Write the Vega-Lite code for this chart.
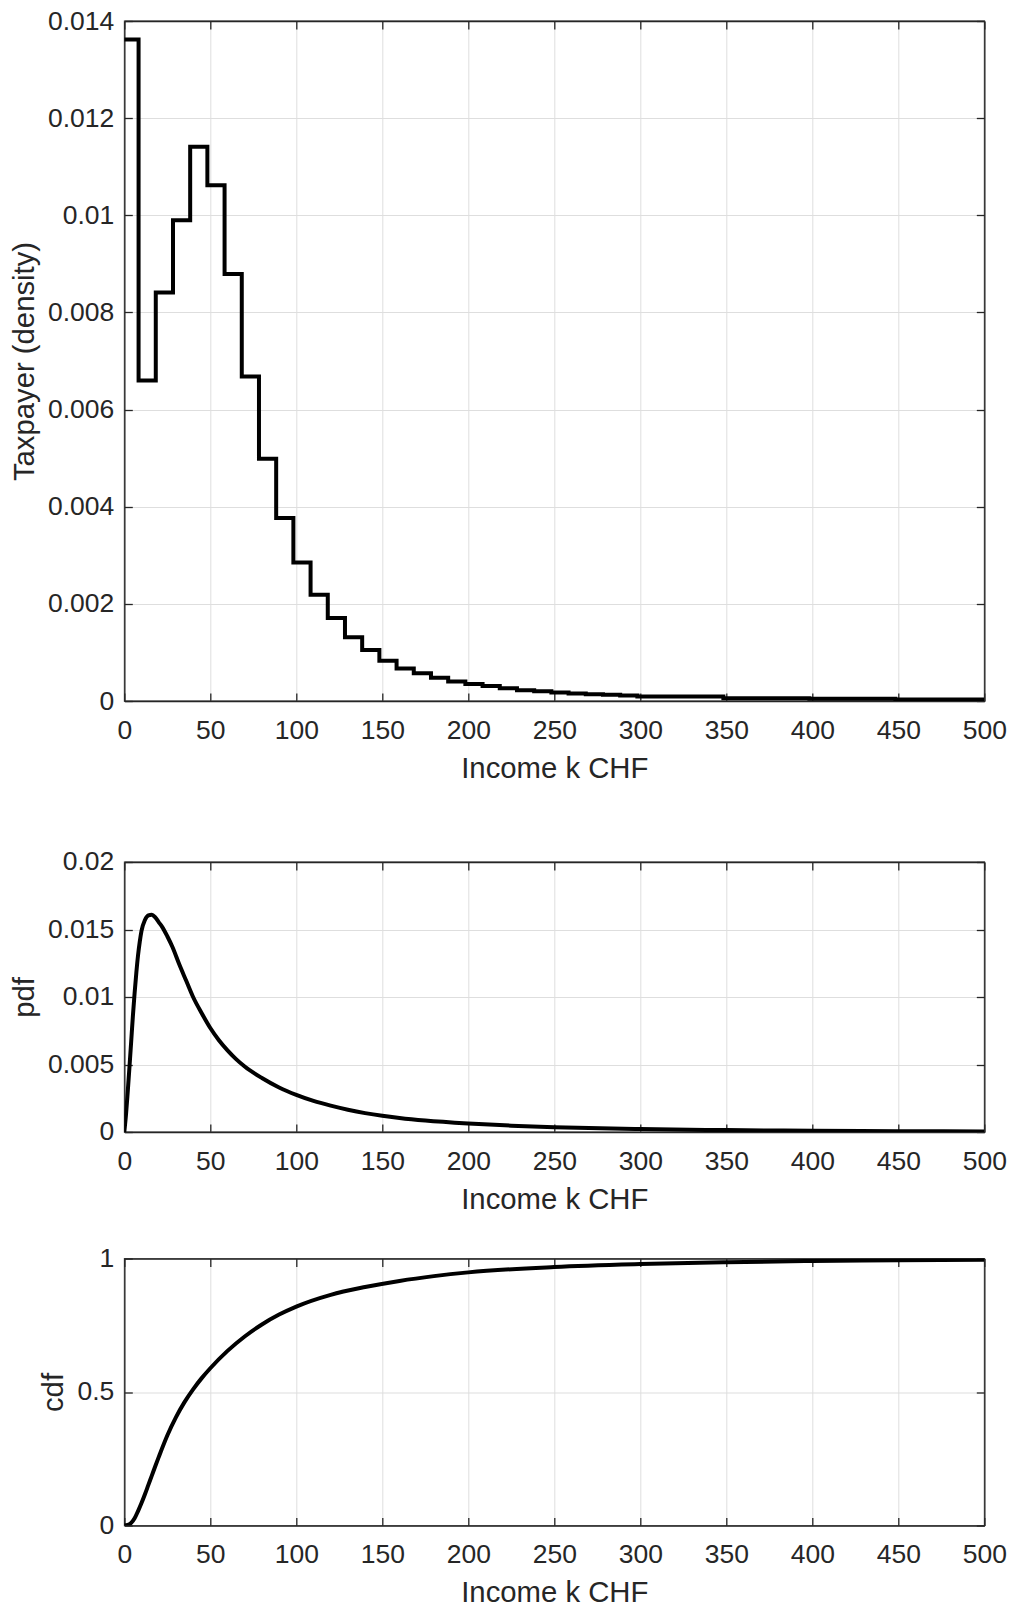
{
  "$schema": "https://vega.github.io/schema/vega-lite/v6.json",
  "padding": {"left": 9.3, "top": 7, "right": 5, "bottom": 0},
  "background": "white",
  "datasets": {
    "hist": [
      {"x": 0, "y": 0.01362}, {"x": 8.3, "y": 0.0066}, {"x": 18.3, "y": 0.00841}, {"x": 28.3, "y": 0.0099},
      {"x": 38.3, "y": 0.01141}, {"x": 48.3, "y": 0.01062}, {"x": 58.3, "y": 0.00879}, {"x": 68.3, "y": 0.00668},
      {"x": 78.3, "y": 0.00499}, {"x": 88.3, "y": 0.00377}, {"x": 98.3, "y": 0.00285}, {"x": 108.3, "y": 0.00219},
      {"x": 118.3, "y": 0.00171}, {"x": 128.3, "y": 0.00131}, {"x": 138.3, "y": 0.00105}, {"x": 148.3, "y": 0.00083},
      {"x": 158.3, "y": 0.00067}, {"x": 168.3, "y": 0.00057}, {"x": 178.3, "y": 0.00048}, {"x": 188.3, "y": 0.0004},
      {"x": 198.3, "y": 0.00035}, {"x": 208.3, "y": 0.00031}, {"x": 218.3, "y": 0.00026}, {"x": 228.3, "y": 0.00022},
      {"x": 238.3, "y": 0.0002}, {"x": 248.3, "y": 0.000175}, {"x": 258.3, "y": 0.000154}, {"x": 268.3, "y": 0.00014},
      {"x": 278.3, "y": 0.000128}, {"x": 288.3, "y": 0.000113}, {"x": 298.3, "y": 0.000093}, {"x": 348.3, "y": 0.000058},
      {"x": 398.3, "y": 0.000045}, {"x": 448.3, "y": 0.000031}, {"x": 500, "y": 0.000031}
    ],
    "pdf": [
      {"x": 0, "y": 0}, {"x": 1, "y": 0.0013}, {"x": 2, "y": 0.003}, {"x": 3, "y": 0.0048}, {"x": 4, "y": 0.0067},
      {"x": 5, "y": 0.0086}, {"x": 6, "y": 0.0103}, {"x": 7, "y": 0.0118}, {"x": 8, "y": 0.0131}, {"x": 9, "y": 0.0141},
      {"x": 10, "y": 0.0149}, {"x": 12, "y": 0.0157}, {"x": 14, "y": 0.01605}, {"x": 16, "y": 0.0161}, {"x": 18, "y": 0.0159},
      {"x": 20, "y": 0.01555}, {"x": 22, "y": 0.0152}, {"x": 25, "y": 0.0145}, {"x": 28, "y": 0.0137}, {"x": 32, "y": 0.0124},
      {"x": 36, "y": 0.0112}, {"x": 40, "y": 0.01}, {"x": 45, "y": 0.0088}, {"x": 50, "y": 0.0077}, {"x": 55, "y": 0.0068},
      {"x": 60, "y": 0.00605}, {"x": 65, "y": 0.0054}, {"x": 70, "y": 0.00485}, {"x": 80, "y": 0.004}, {"x": 90, "y": 0.0033},
      {"x": 100, "y": 0.00275}, {"x": 110, "y": 0.0023}, {"x": 120, "y": 0.00195}, {"x": 130, "y": 0.00165}, {"x": 140, "y": 0.0014},
      {"x": 150, "y": 0.0012}, {"x": 160, "y": 0.00104}, {"x": 175, "y": 0.00085}, {"x": 200, "y": 0.00063}, {"x": 225, "y": 0.00047},
      {"x": 250, "y": 0.00036}, {"x": 300, "y": 0.00022}, {"x": 350, "y": 0.00014}, {"x": 400, "y": 0.00009}, {"x": 450, "y": 0.00006},
      {"x": 500, "y": 0.00004}
    ],
    "cdf": [
      {"x": 0, "y": 0}, {"x": 2, "y": 0.002}, {"x": 4, "y": 0.01}, {"x": 6, "y": 0.027}, {"x": 8, "y": 0.054},
      {"x": 10, "y": 0.084}, {"x": 12, "y": 0.117}, {"x": 14, "y": 0.152}, {"x": 16, "y": 0.187}, {"x": 18, "y": 0.222},
      {"x": 20, "y": 0.256}, {"x": 25, "y": 0.337}, {"x": 30, "y": 0.405}, {"x": 35, "y": 0.462}, {"x": 40, "y": 0.51},
      {"x": 45, "y": 0.552}, {"x": 50, "y": 0.589}, {"x": 60, "y": 0.654}, {"x": 70, "y": 0.708}, {"x": 80, "y": 0.753},
      {"x": 90, "y": 0.79}, {"x": 100, "y": 0.82}, {"x": 120, "y": 0.864}, {"x": 140, "y": 0.893}, {"x": 160, "y": 0.916},
      {"x": 180, "y": 0.934}, {"x": 200, "y": 0.948}, {"x": 250, "y": 0.968}, {"x": 300, "y": 0.979}, {"x": 350, "y": 0.986},
      {"x": 400, "y": 0.9905}, {"x": 450, "y": 0.993}, {"x": 500, "y": 0.9955}
    ]
  },
  "spacing": 63,
  "vconcat": [
    {
      "width": 860,
      "height": 680,
      "data": {"name": "hist"},
      "resolve": {"axis": {"x": "independent", "y": "independent"}},
      "layer": [
        {
          "mark": {"type": "line", "opacity": 0},
          "encoding": {
            "x": {"field": "x", "type": "quantitative", "scale": {"domain": [0, 500], "nice": false, "zero": false},
                  "axis": {"orient": "top", "labels": false, "grid": false, "title": null, "values": [0, 50, 100, 150, 200, 250, 300, 350, 400, 450, 500]}},
            "y": {"field": "y", "type": "quantitative", "scale": {"domain": [0, 0.014], "nice": false},
                  "axis": {"orient": "right", "labels": false, "grid": false, "title": null, "values": [0, 0.002, 0.004, 0.006, 0.008, 0.01, 0.012, 0.014]}}
          }
        },
        {
          "mark": {"type": "line", "interpolate": "step-after", "color": "black", "strokeWidth": 4, "strokeJoin": "miter", "clip": true},
          "encoding": {
            "x": {"field": "x", "type": "quantitative", "scale": {"domain": [0, 500], "nice": false, "zero": false},
                  "axis": {"orient": "bottom", "grid": true, "title": "Income k CHF", "values": [0, 50, 100, 150, 200, 250, 300, 350, 400, 450, 500]}},
            "y": {"field": "y", "type": "quantitative", "scale": {"domain": [0, 0.014], "nice": false},
                  "axis": {"orient": "left", "grid": true, "title": "Taxpayer (density)", "format": "~g", "values": [0, 0.002, 0.004, 0.006, 0.008, 0.01, 0.012, 0.014]}}
          }
        }
      ]
    },
    {
      "spacing": 28.5,
      "vconcat": [
        {
          "width": 860,
          "height": 270,
          "data": {"name": "pdf"},
          "resolve": {"axis": {"x": "independent", "y": "independent"}},
          "layer": [
            {
              "mark": {"type": "line", "opacity": 0},
              "encoding": {
                "x": {"field": "x", "type": "quantitative", "scale": {"domain": [0, 500], "nice": false, "zero": false},
                      "axis": {"orient": "top", "labels": false, "grid": false, "title": null, "values": [0, 50, 100, 150, 200, 250, 300, 350, 400, 450, 500]}},
                "y": {"field": "y", "type": "quantitative", "scale": {"domain": [0, 0.02], "nice": false},
                      "axis": {"orient": "right", "labels": false, "grid": false, "title": null, "values": [0, 0.005, 0.01, 0.015, 0.02]}}
              }
            },
            {
              "mark": {"type": "line", "interpolate": "monotone", "color": "black", "strokeWidth": 4, "clip": true},
              "encoding": {
                "x": {"field": "x", "type": "quantitative", "scale": {"domain": [0, 500], "nice": false, "zero": false},
                      "axis": {"orient": "bottom", "grid": true, "title": "Income k CHF", "values": [0, 50, 100, 150, 200, 250, 300, 350, 400, 450, 500]}},
                "y": {"field": "y", "type": "quantitative", "scale": {"domain": [0, 0.02], "nice": false},
                      "axis": {"orient": "left", "grid": true, "title": "pdf", "format": "~g", "values": [0, 0.005, 0.01, 0.015, 0.02]}}
              }
            }
          ]
        },
        {
          "width": 860,
          "height": 267,
          "data": {"name": "cdf"},
          "resolve": {"axis": {"x": "independent", "y": "independent"}},
          "layer": [
            {
              "mark": {"type": "line", "opacity": 0},
              "encoding": {
                "x": {"field": "x", "type": "quantitative", "scale": {"domain": [0, 500], "nice": false, "zero": false},
                      "axis": {"orient": "top", "labels": false, "grid": false, "title": null, "values": [0, 50, 100, 150, 200, 250, 300, 350, 400, 450, 500]}},
                "y": {"field": "y", "type": "quantitative", "scale": {"domain": [0, 1], "nice": false},
                      "axis": {"orient": "right", "labels": false, "grid": false, "title": null, "values": [0, 0.5, 1]}}
              }
            },
            {
              "mark": {"type": "line", "interpolate": "monotone", "color": "black", "strokeWidth": 4, "clip": true},
              "encoding": {
                "x": {"field": "x", "type": "quantitative", "scale": {"domain": [0, 500], "nice": false, "zero": false},
                      "axis": {"orient": "bottom", "grid": true, "title": "Income k CHF", "values": [0, 50, 100, 150, 200, 250, 300, 350, 400, 450, 500]}},
                "y": {"field": "y", "type": "quantitative", "scale": {"domain": [0, 1], "nice": false},
                      "axis": {"orient": "left", "grid": true, "title": "cdf", "format": "~g", "values": [0, 0.5, 1]}}
              }
            }
          ]
        }
      ]
    }
  ],
  "config": {
    "font": "Liberation Sans",
    "view": {"stroke": "#262626", "strokeWidth": 1.3},
    "axis": {
      "labelFont": "Liberation Sans", "labelFontSize": 26.5, "labelColor": "#262626",
      "titleFont": "Liberation Sans", "titleFontSize": 29.3, "titleFontWeight": "normal", "titleColor": "#262626",
      "domainColor": "#262626", "domainWidth": 1.3,
      "tickColor": "#262626", "tickWidth": 1.3, "tickSize": -8,
      "labelPadding": 24.4, "titlePadding": 10.4,
      "gridColor": "#dedede", "gridWidth": 1,
      "labelFlush": false, "labelOverlap": false
    },
    "axisLeft": {"labelPadding": 18.5, "titlePadding": 8},
    "axisY": {"labelPadding": 18.5, "titlePadding": 8}
  }
}
